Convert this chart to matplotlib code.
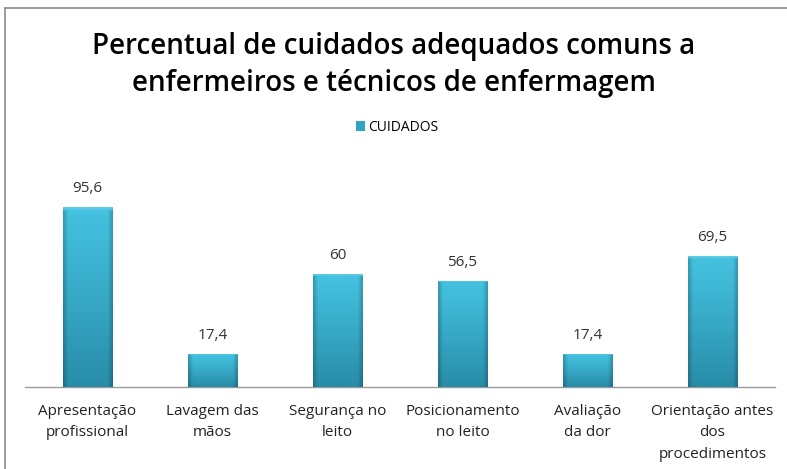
import numpy as np
import matplotlib
matplotlib.use('Agg')
import matplotlib.pyplot as plt
from matplotlib.patches import Rectangle
from matplotlib.lines import Line2D

categorias = ['Apresentação\nprofissional', 'Lavagem das\nmãos', 'Segurança no\nleito',
              'Posicionamento\nno leito', 'Avaliação\nda dor', 'Orientação antes\ndos\nprocedimentos']
valores = [95.6, 17.4, 60, 56.5, 17.4, 69.5]
rotulos = ['95,6', '17,4', '60', '56,5', '17,4', '69,5']
titulo = 'Percentual de cuidados adequados comuns a\nenfermeiros e técnicos de enfermagem'
serie = 'CUIDADOS'

fonte = ['Open Sans', 'DejaVu Sans']

fig = plt.figure(figsize=(7.87, 4.69), dpi=100)
ax = fig.add_axes([25 / 787, 1 - 387 / 469, 750 / 787, 188 / 469])

x = np.arange(len(valores))
largura = 0.4
barras = ax.bar(x, valores, width=largura, color='#35b2d0', edgecolor='none', zorder=2)

# gradiente tipo "bisel" em cada barra
ny, nx = 64, 32
gy = np.linspace(0, 1, ny)[:, None]
gx = np.linspace(-1, 1, nx)[None, :]
topo = np.array([0x44, 0xc2, 0xe0]) / 255
base = np.array([0x28, 0x8c, 0xa8]) / 255
cores = topo + (base - topo) * gy[..., None] ** 1.1
borda = np.clip((np.abs(gx) - 0.82) / 0.18, 0, 1)[..., None]
cores = cores * (1 - 0.2 * borda)
cores = np.broadcast_to(cores, (ny, nx, 3)).copy()
cores[0, :, :] = np.array([0x5c, 0xcc, 0xe8]) / 255
for b in barras:
    x0, y0 = b.get_x(), b.get_y()
    w, h = b.get_width(), b.get_height()
    im = ax.imshow(cores, extent=[x0, x0 + w, y0, y0 + h], aspect='auto',
                   origin='upper', zorder=3, interpolation='bilinear')
    im.set_clip_path(b)

for xi, v, r in zip(x, valores, rotulos):
    ax.text(xi, v + 6, r, ha='center', va='bottom', fontsize=11,
            color='#333333', family=fonte)

ax.set_xlim(-0.5, len(valores) - 0.5)
ax.set_ylim(0, 100)
ax.set_xticks(x)
ax.set_xticklabels(categorias, fontsize=11, color='#222222', family=fonte, linespacing=1.6)
ax.tick_params(axis='x', length=0, pad=12)
ax.set_yticks([])
for lado in ['top', 'right', 'left']:
    ax.spines[lado].set_visible(False)
ax.spines['bottom'].set_color('#9a9a9a')
ax.spines['bottom'].set_linewidth(1)

fig.text(0.5, 1 - 65 / 469, titulo, ha='center', va='center', fontsize=20,
         fontweight='semibold', family=fonte, linespacing=1.35, color='black')

fig.legend(handles=[Rectangle((0, 0), 1, 1, facecolor='#2fa3c2', edgecolor='none')],
           labels=[serie], loc='center', bbox_to_anchor=(397 / 787, 1 - 127 / 469),
           frameon=False, handlelength=0.7, handleheight=0.7,
           handletextpad=0.2, prop={'family': fonte, 'size': 10})

# moldura parcial (esquerda e topo)
fig.add_artist(Line2D([5 / 787, 5 / 787], [0, 1 - 8 / 469], color='#8a8a8a', lw=1.2))
fig.add_artist(Line2D([5 / 787, 1], [1 - 8 / 469, 1 - 8 / 469], color='#8a8a8a', lw=1.2))

fig.savefig('out.png', dpi=100)
